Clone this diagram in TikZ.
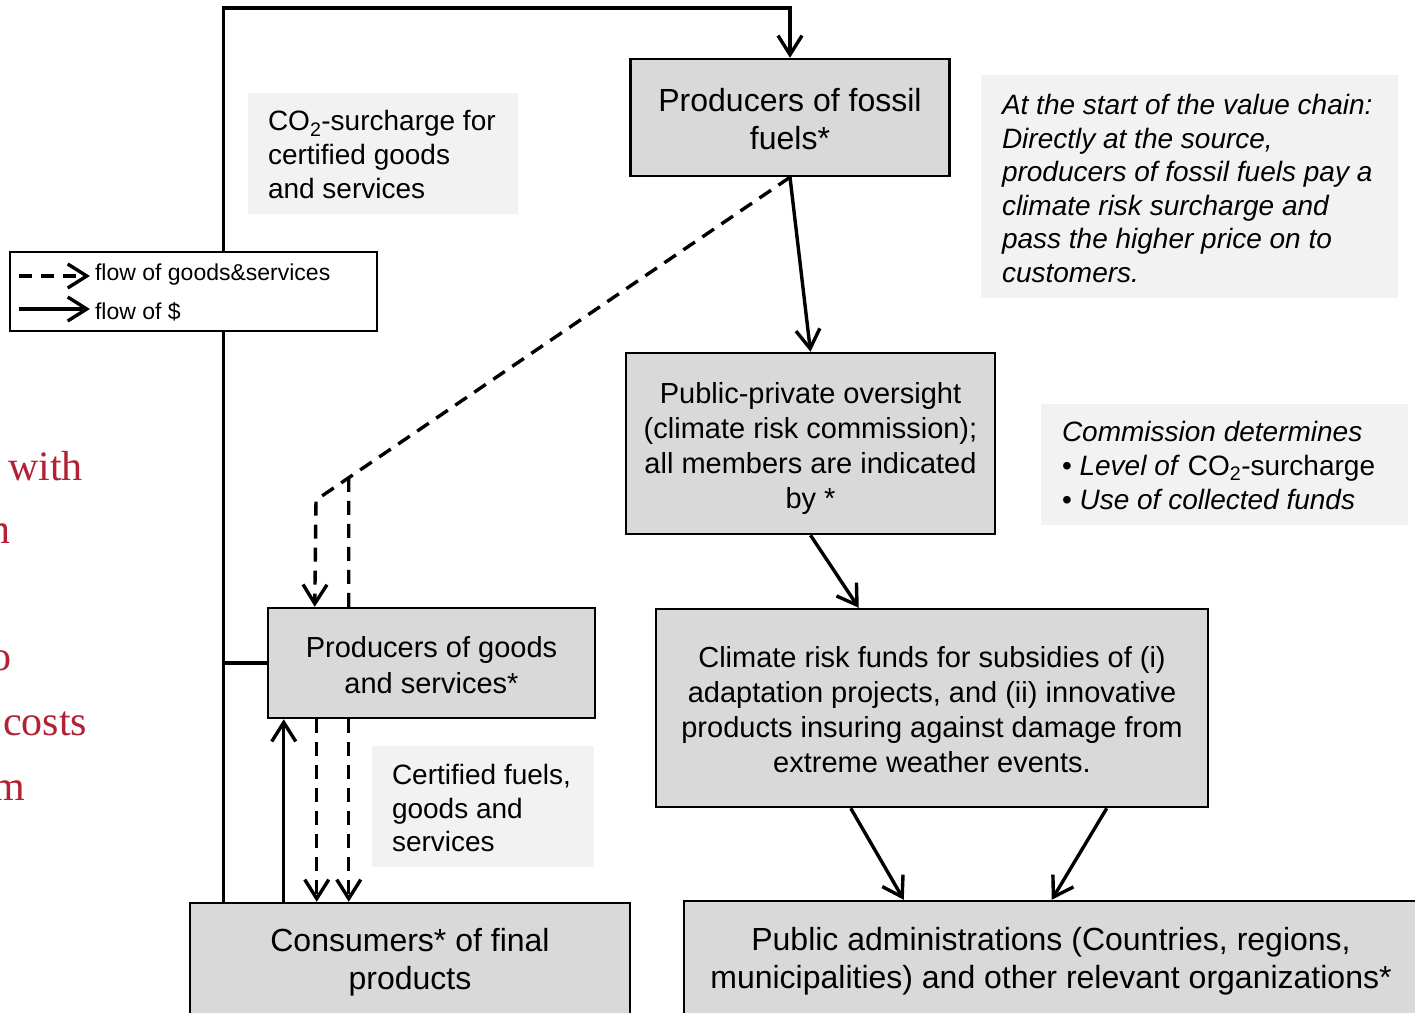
\documentclass[tikz,border=0pt]{standalone}
\usepackage{fontspec}
\setmainfont{Liberation Sans}
\newfontfamily\slideserif{Liberation Serif}
\usetikzlibrary{arrows.meta,calc}
\definecolor{boxgray}{RGB}{217,217,217}
\definecolor{notegray}{RGB}{242,242,242}
\definecolor{slidered}{RGB}{178,34,52}
\newcommand\fsz[2]{\fontsize{#1}{#2}\selectfont}
\begin{document}
\begin{tikzpicture}[x=1pt,y=-1pt,
  box/.style={draw=black,line width=2.5pt,fill=boxgray,inner sep=0pt},
  boxtext/.style={align=center,inner sep=0pt},
  note/.style={fill=notegray,inner sep=0pt},
  notetext/.style={anchor=west,align=left,inner sep=0pt,font=\fsz{28}{33.6}},
  flow/.style={line width=3.4pt,-{Straight Barb[length=19pt,width=24pt]}},
  flowline/.style={line width=3.4pt},
  goods/.style={flow,dash pattern=on 14pt off 9pt},
  goodsline/.style={line width=3.4pt,dash pattern=on 14pt off 9pt},
  redtext/.style={text=slidered,font=\slideserif\fsz{42}{50},inner sep=0pt,anchor=base west}]
\useasboundingbox (0,0) rectangle (1415,1012);
\fill[white] (0,0) rectangle (1415,1012);

% partial slide text at the left edge
\node[redtext] (r1) at (8,480) {with};
\node[redtext] (r2) at (-11,543) {n};
\node[redtext] (r3) at (-10,670) {o};
\node[redtext] (r4) at (3,735) {costs};
\node[redtext] (r5) at (-8,800) {m};

% note boxes
\node[note,minimum width=270pt,minimum height=121pt] (co2note) at (383,153.5) {};
\node[notetext] (co2text) at ($(co2note.west)+(20,1)$) {CO\textsubscript{2}-surcharge for\\certified goods\\and services};
\node[note,minimum width=417pt,minimum height=223pt] (valnote) at (1189.5,186.5) {};
\node[notetext,font=\itshape\fsz{28}{33.6}] (valtext) at ($(valnote.west)+(21,2)$) {At the start of the value chain:\\Directly at the source,\\producers of fossil fuels pay a\\climate risk surcharge and\\pass the higher price on to\\customers.};
\node[note,minimum width=367pt,minimum height=121pt] (comnote) at (1224.5,464.5) {};
\node[notetext] (comtext) at ($(comnote.west)+(21,1)$) {\textit{Commission determines}\\• \textit{Level of} CO\textsubscript{2}-surcharge\\• \textit{Use of collected funds}};
\node[note,minimum width=222pt,minimum height=121pt] (certnote) at (483,806.5) {};
\node[notetext] (certtext) at ($(certnote.west)+(20,1.5)$) {Certified fuels,\\goods and\\services};

% main boxes
\node[box,minimum width=319pt,minimum height=117pt] (fossil) at (790,117.5) {};
\node[boxtext,font=\fsz{32}{38}] (fossiltext) at ($(fossil.center)+(0,2)$) {Producers of fossil\\fuels*};
\node[box,minimum width=369pt,minimum height=181pt] (pub) at (810.5,443.5) {};
\node[boxtext,font=\fsz{29}{35}] (pubtext) at ($(pub.center)+(0,5)$) {Public-private oversight\\(climate risk commission);\\all members are indicated\\by *};
\node[box,minimum width=552pt,minimum height=198pt] (clim) at (932,708) {};
\node[boxtext,font=\fsz{29}{35}] (climtext) at ($(clim.center)+(0,2)$) {Climate risk funds for subsidies of (i)\\adaptation projects, and (ii) innovative\\products insuring against damage from\\extreme weather events.};
\node[box,minimum width=327pt,minimum height=110pt] (goodsbox) at (431.5,663) {};
\node[boxtext,font=\fsz{29}{36}] (goodstext) at ($(goodsbox.center)+(0,2)$) {Producers of goods\\and services*};
\node[box,minimum width=440pt,minimum height=117pt] (cons) at (410,961.5) {};
\node[boxtext,font=\fsz{32}{38}] (constext) at ($(cons.center)+(0,0.5)$) {Consumers* of final\\products};
\node[box,minimum width=734pt,minimum height=119pt] (admin) at (1051,960.5) {};
\node[boxtext,font=\fsz{32}{38}] (admintext) at ($(admin.center)+(0,0.5)$) {Public administrations (Countries, regions,\\municipalities) and other relevant organizations*};

% money flows
\coordinate (topleft) at (225,8);
\draw[flow] ($(cons.north west)+(35,0)$) |- (topleft -| fossil.north) -- (fossil.north);
\draw[flowline] (goodsbox.west -| topleft) -- (goodsbox.west);
\draw[flow] (fossil.south) -- (pub.north);
\draw[flow] (pub.south) -- ($(clim.north west)+(204,0)$);
\draw[flow] ($(clim.south west)+(196,0)$) -- ($(admin.north west)+(221,0)$);
\draw[flow] ($(clim.south west)+(452,0)$) -- ($(admin.north west)+(369,0)$);
\draw[flow] ($(cons.north west)+(95,0)$) -- ($(goodsbox.south west)+(17,0)$);

% goods flows
\coordinate (bend) at (316,500);
\coordinate (g2) at ($(goodsbox.north west)+(82,0)$);
\draw[goods] (fossil.south) -- (bend) -- ($(goodsbox.north west)+(48,0)$);
\draw[goodsline] (g2) -- (intersection of g2--{$(g2)+(0,-300)$} and fossil.south--bend);
\draw[goods] ($(goodsbox.south west)+(50,0)$) -- ($(cons.north west)+(128,0)$);
\draw[goods] ($(goodsbox.south west)+(82,0)$) -- ($(cons.north west)+(160,0)$);

% legend
\node[draw=black,line width=2.2pt,fill=white,minimum width=367pt,minimum height=79pt,inner sep=0pt] (leg) at (193.5,291.5) {};
\coordinate (la1) at ($(leg.west)+(10,-15.5)$);
\coordinate (la2) at ($(leg.west)+(81,-15.5)$);
\coordinate (lb1) at ($(leg.west)+(10,17.5)$);
\coordinate (lb2) at ($(leg.west)+(81,17.5)$);
\draw[goods,dash pattern=on 13pt off 9pt] (la1) -- (la2);
\draw[flow] (lb1) -- (lb2);
\node[anchor=west,inner sep=0pt,font=\fsz{23}{27}] (legt1) at ($(leg.west)+(86,-17)$) {flow of goods\&services};
\node[anchor=west,inner sep=0pt,font=\fsz{23}{27}] (legt2) at ($(leg.west)+(86,20.5)$) {flow of \$};
\end{tikzpicture}
\end{document}
